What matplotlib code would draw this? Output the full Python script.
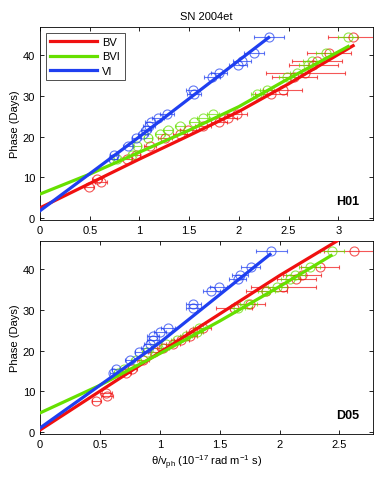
import numpy as np
import matplotlib
matplotlib.use('Agg')
import matplotlib.pyplot as plt

plt.rcParams['font.family'] = ['Liberation Sans', 'DejaVu Sans']
plt.rcParams['mathtext.fontset'] = 'custom'
plt.rcParams['mathtext.rm'] = 'Liberation Sans'
plt.rcParams['mathtext.it'] = 'Liberation Sans:italic'

# epochs (days)
phase_all = [7.7, 8.8, 9.6, 14.6, 15.6, 17.6, 19.6, 20.6, 21.6, 22.7, 23.6,
             24.6, 25.6, 30.6, 31.6, 34.6, 35.6, 37.6, 38.6, 40.6, 44.6]
phase_gi = phase_all[3:]

# H01 panel
h01_bv_x = [0.49, 0.61, 0.57, 0.87, 0.96, 1.11, 1.26, 1.41, 1.49, 1.64, 1.80,
            1.89, 1.98, 2.32, 2.44, 2.56, 2.67, 2.75, 2.79, 2.91, 3.15]
h01_bv_err = [0.05, 0.06, 0.05, 0.05, 0.05, 0.06, 0.07, 0.07, 0.08, 0.08, 0.08,
              0.09, 0.10, 0.16, 0.20, 0.23, 0.40, 0.25, 0.25, 0.22, 0.25]
h01_bvi_x = [0.77, 0.92, 0.98, 1.09, 1.21, 1.29, 1.41, 1.55, 1.64, 1.74, 2.18,
             2.28, 2.48, 2.59, 2.70, 2.74, 2.88, 3.10]
h01_bvi_err = [0.03, 0.03, 0.04, 0.04, 0.05, 0.05, 0.05, 0.05, 0.06, 0.06, 0.06,
               0.07, 0.08, 0.08, 0.09, 0.09, 0.10, 0.10]
h01_vi_x = [0.73, 0.74, 0.88, 0.97, 1.04, 1.07, 1.10, 1.12, 1.19, 1.28, 1.55,
            1.54, 1.73, 1.80, 1.99, 2.03, 2.15, 2.30]
h01_vi_err = [0.04, 0.04, 0.05, 0.05, 0.05, 0.05, 0.06, 0.06, 0.06, 0.07, 0.07,
              0.07, 0.08, 0.08, 0.09, 0.09, 0.10, 0.15]
h01_fit_bv = ([0, 0.5, 1.0, 1.5, 2.0, 2.5, 3.15], [2.5, 8.5, 14.5, 20.3, 26.2, 33.0, 42.4])
h01_fit_bvi = ([0, 0.5, 1.0, 1.5, 2.0, 2.5, 3.10], [5.9, 10.8, 16.2, 21.6, 27.4, 34.3, 42.2])
h01_fit_vi = ([0, 1.0, 2.30], [1.8, 20.0, 44.4])

# D05 panel
d05_bv_x = [0.47, 0.56, 0.55, 0.72, 0.77, 0.86, 0.95, 1.03, 1.11, 1.18, 1.25,
            1.28, 1.36, 1.62, 1.75, 1.89, 2.03, 2.14, 2.19, 2.34, 2.62]
d05_bv_err = [0.04, 0.05, 0.05, 0.04, 0.04, 0.05, 0.05, 0.05, 0.06, 0.06, 0.06,
              0.06, 0.07, 0.15, 0.13, 0.17, 0.27, 0.16, 0.16, 0.16, 0.25]
d05_bvi_x = [0.65, 0.70, 0.80, 0.89, 0.97, 1.05, 1.14, 1.22, 1.31, 1.33, 1.65,
             1.74, 1.89, 1.98, 2.09, 2.13, 2.25, 2.44]
d05_bvi_err = [0.03, 0.03, 0.04, 0.04, 0.04, 0.04, 0.05, 0.05, 0.05, 0.05, 0.06,
               0.07, 0.07, 0.08, 0.08, 0.08, 0.09, 0.10]
d05_vi_x = [0.61, 0.63, 0.75, 0.83, 0.89, 0.92, 0.94, 0.94, 1.00, 1.07, 1.28,
            1.28, 1.43, 1.49, 1.65, 1.67, 1.76, 1.93]
d05_vi_err = [0.03, 0.03, 0.04, 0.04, 0.05, 0.05, 0.05, 0.05, 0.05, 0.06, 0.06,
              0.06, 0.07, 0.07, 0.07, 0.07, 0.08, 0.13]
d05_fit_bv = ([0, 1.0, 2.0, 2.48], [0.5, 19.6, 38.5, 47.0])
d05_fit_bvi = ([0, 0.5, 1.0, 1.5, 2.0, 2.43], [4.7, 11.5, 19.3, 27.3, 35.8, 43.4])
d05_fit_vi = ([0, 1.0, 1.92], [1.0, 22.0, 43.7])

c_bv = '#f01010'
c_bvi = '#66e000'
c_vi = '#1f3ff0'

fig = plt.figure(figsize=(3.82, 4.81), dpi=100)
ax1 = fig.add_axes([0.105, 0.5405, 0.8714, 0.4013])
ax2 = fig.add_axes([0.105, 0.0956, 0.8714, 0.4013])

panels = [
    (ax1, 'H01', 3.35, phase_all, h01_bv_x, h01_bv_err, h01_bvi_x, h01_bvi_err,
     h01_vi_x, h01_vi_err, h01_fit_bv, h01_fit_bvi, h01_fit_vi),
    (ax2, 'D05', 2.78, phase_all, d05_bv_x, d05_bv_err, d05_bvi_x, d05_bvi_err,
     d05_vi_x, d05_vi_err, d05_fit_bv, d05_fit_bvi, d05_fit_vi),
]

for (ax, name, xmax, ph, bvx, bve, bvix, bvie, vix, vie, fbv, fbvi, fvi) in panels:
    for x, e, p, c in [(bvx, bve, ph, c_bv), (bvix, bvie, phase_gi, c_bvi), (vix, vie, phase_gi, c_vi)]:
        ax.errorbar(x, p, xerr=e, fmt='o', mfc='none', mec=c, ms=6.5, mew=0.8,
                    ecolor=c, elinewidth=0.8, capsize=1.5, alpha=0.7, zorder=2)
    ax.plot(fbv[0], fbv[1], color=c_bv, lw=2.3, label='BV', zorder=3)
    ax.plot(fbvi[0], fbvi[1], color=c_bvi, lw=2.3, label='BVI', zorder=3)
    ax.plot(fvi[0], fvi[1], color=c_vi, lw=2.3, label='VI', zorder=3)
    ax.set_xlim(0, xmax)
    ax.set_ylim(-0.5, 47)
    ax.set_yticks([0, 10, 20, 30, 40])
    ticks = np.arange(0, xmax, 0.5)
    ax.set_xticks(ticks)
    ax.set_xticklabels(['0', '0.5', '1', '1.5', '2', '2.5', '3'][:len(ticks)])
    ax.tick_params(direction='in', top=True, right=True, labelsize=8, length=3, width=0.6)
    for s in ax.spines.values():
        s.set_linewidth(0.6)
    ax.set_ylabel('Phase (Days)', fontsize=8, labelpad=2)
    ax.text(0.96, 0.1, name, transform=ax.transAxes, ha='right', va='center',
            fontsize=9, fontweight='bold')

leg = ax1.legend(loc='upper left', fontsize=8, frameon=True, fancybox=False,
                 edgecolor='black', handlelength=4.2, borderpad=0.4,
                 labelspacing=0.4, handletextpad=0.5, borderaxespad=0.5)
leg.get_frame().set_linewidth(0.6)

ax1.set_title('SN 2004et', fontsize=8, pad=6)
ax2.set_xlabel('θ/v$_{\\rm ph}$ (10$^{-17}$ rad m$^{-1}$ s)', fontsize=8, labelpad=3)

fig.savefig('out.png', dpi=100)
